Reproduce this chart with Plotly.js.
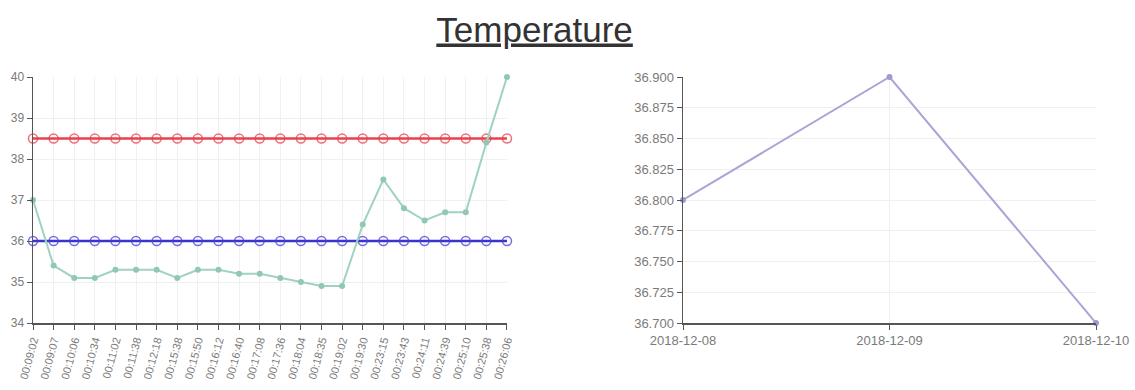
<!DOCTYPE html>
<html><head><meta charset="utf-8">
<script src="https://cdn.plot.ly/plotly-3.0.1.min.js"></script>
<style>html,body{margin:0;padding:0;background:#fff}#chart{width:1135px;height:390px}</style>
</head><body><div id="chart"></div>
<script>
const times = ["00:09:02","00:09:07","00:10:06","00:10:34","00:11:02","00:11:38","00:12:18","00:15:38","00:15:50","00:16:12","00:16:40","00:17:08","00:17:36","00:18:04","00:18:35","00:19:02","00:19:30","00:23:15","00:23:43","00:24:11","00:24:39","00:25:10","00:25:38","00:26:06"];
const temps = [37.0,35.4,35.1,35.1,35.3,35.3,35.3,35.1,35.3,35.3,35.2,35.2,35.1,35.0,34.9,34.9,36.4,37.5,36.8,36.5,36.7,36.7,38.4,40.0];
const upperLimit = times.map(() => 38.5);
const lowerLimit = times.map(() => 36.0);
const dates = ["2018-12-08","2018-12-09","2018-12-10"];
const dailyTemps = [36.8,36.9,36.7];

const tickFont = {family:"Liberation Sans, Arial, sans-serif", size:12, color:"#7a7a7a"};
const traces = [
  {x:times, y:upperLimit, mode:"lines+markers", xaxis:"x", yaxis:"y", cliponaxis:false,
   line:{color:"#e8404c", width:2.5},
   marker:{symbol:"circle-open", size:9, color:"rgba(232,64,76,0.75)", line:{width:1.5}}},
  {x:times, y:lowerLimit, mode:"lines+markers", xaxis:"x", yaxis:"y", cliponaxis:false,
   line:{color:"#3a35c8", width:2.5},
   marker:{symbol:"circle-open", size:9, color:"rgba(70,60,220,0.75)", line:{width:1.5}}},
  {x:times, y:temps, mode:"lines+markers", xaxis:"x", yaxis:"y", cliponaxis:false,
   line:{color:"#9fd3c0", width:2},
   marker:{size:6, color:"#90c8b4"}},
  {x:dates, y:dailyTemps, mode:"lines+markers", xaxis:"x2", yaxis:"y2", cliponaxis:false,
   line:{color:"#aaa5d6", width:2},
   marker:{size:6, color:"#9f9ad0"}}
];
const axisCommon = {showline:true, linecolor:"#555", linewidth:1.5, ticks:"outside", ticklen:5, tickcolor:"#555",
  showgrid:true, gridcolor:"#f0f0f0", zeroline:false, tickfont:tickFont};
const layout = {
  width:1135, height:390, showlegend:false,
  paper_bgcolor:"#fff", plot_bgcolor:"#fff",
  margin:{l:33, r:39, t:77, b:67},
  title:{text:"Temperature", x:0.471, xanchor:"center", y:0.925, yanchor:"middle",
    font:{family:"Liberation Sans, Arial, sans-serif", size:35, color:"#333", lineposition:"under"}},
  xaxis:Object.assign({}, axisCommon, {domain:[0,0.4459], type:"category", range:[0,23], tickangle:-75,
    tickfont:Object.assign({}, tickFont, {size:11})}),
  yaxis:Object.assign({}, axisCommon, {range:[34,40], dtick:1}),
  xaxis2:Object.assign({}, axisCommon, {domain:[0.6115,1], anchor:"y2", type:"date",
    range:["2018-12-08","2018-12-10"], dtick:86400000, tickformat:"%Y-%m-%d", tickangle:0,
    tickfont:Object.assign({}, tickFont, {size:13})}),
  yaxis2:Object.assign({}, axisCommon, {anchor:"x2", range:[36.7,36.9], dtick:0.025, tickformat:".3f",
    tickfont:Object.assign({}, tickFont, {size:13})})
};
Plotly.newPlot("chart", traces, layout, {displayModeBar:false, staticPlot:true});
</script></body></html>
